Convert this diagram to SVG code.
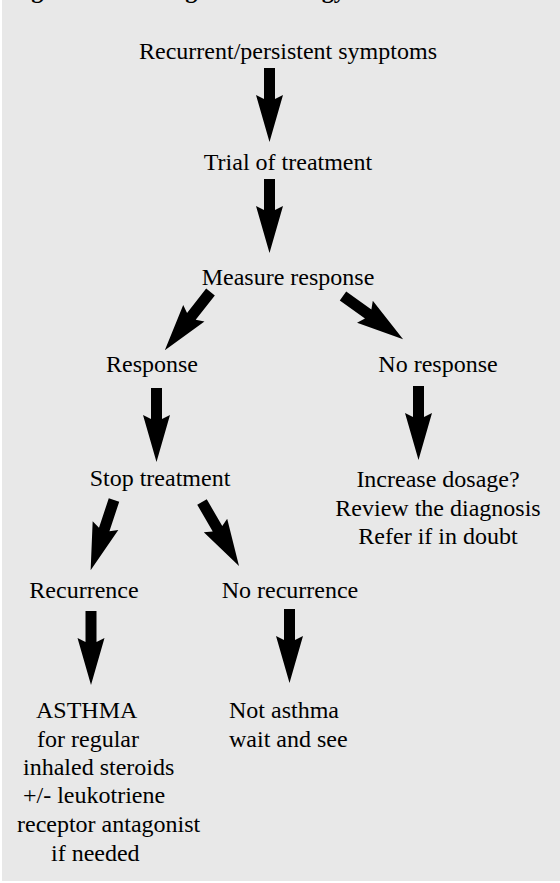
<svg xmlns="http://www.w3.org/2000/svg" xmlns:xlink="http://www.w3.org/1999/xlink" width="560" height="883" viewBox="0 0 560 883">
  <style>
    .t { font-family: "Liberation Serif", "Times New Roman", serif; font-size: 24px; fill: #000; }
    .c { text-anchor: middle; }
    .title { font-family: "Liberation Serif", "Times New Roman", serif; font-size: 24px; font-weight: bold; fill: #000; }
  </style>
  <defs>
    <polygon id="arr" points="-5.5,0 5.5,0 5.5,31 13.5,27 0,74 -13.5,27 -5.5,31" fill="#000"/>
  </defs>
  <rect x="2" y="0" width="558" height="881" fill="#e8e8e8"/>
  <text class="title" x="10" y="-2">Figure 1. The diagnostic strategy</text>

  <g id="connectors">
    <use xlink:href="#arr" transform="translate(269.5,68)"/>
    <use xlink:href="#arr" transform="translate(269.5,179)"/>
    <use xlink:href="#arr" transform="translate(210.5,292) rotate(38.1)"/>
    <use xlink:href="#arr" transform="translate(343,296) rotate(-54.3)"/>
    <use xlink:href="#arr" transform="translate(156.5,388)"/>
    <use xlink:href="#arr" transform="translate(418.5,386)"/>
    <use xlink:href="#arr" transform="translate(114,500) rotate(18.4)"/>
    <use xlink:href="#arr" transform="translate(202,502) rotate(-30)"/>
    <use xlink:href="#arr" transform="translate(91,611)"/>
    <use xlink:href="#arr" transform="translate(289.5,609)"/>
  </g>

  <g id="n-symptoms"><text class="t c" x="288" y="59">Recurrent/persistent symptoms</text></g>
  <g id="n-trial"><text class="t c" x="288" y="170">Trial of treatment</text></g>
  <g id="n-measure"><text class="t c" x="288" y="285">Measure response</text></g>
  <g id="n-response"><text class="t c" x="152" y="372">Response</text></g>
  <g id="n-noresponse"><text class="t c" x="438" y="372">No response</text></g>
  <g id="n-stop"><text class="t c" x="160" y="486">Stop treatment</text></g>
  <g id="n-increase">
    <text class="t c" x="438" y="487">Increase dosage?</text>
    <text class="t c" x="438" y="516">Review the diagnosis</text>
    <text class="t c" x="438" y="544">Refer if in doubt</text>
  </g>
  <g id="n-recurrence"><text class="t c" x="84" y="598">Recurrence</text></g>
  <g id="n-norecurrence"><text class="t c" x="290" y="598">No recurrence</text></g>
  <g id="n-asthma">
    <text class="t" x="36" y="718">ASTHMA</text>
    <text class="t" x="37" y="747">for regular</text>
    <text class="t" x="23" y="775">inhaled steroids</text>
    <text class="t" x="23" y="803">+/- leukotriene</text>
    <text class="t" x="17" y="832">receptor antagonist</text>
    <text class="t" x="51" y="861">if needed</text>
  </g>
  <g id="n-notasthma">
    <text class="t" x="229" y="718">Not asthma</text>
    <text class="t" x="229" y="747">wait and see</text>
  </g>
</svg>
